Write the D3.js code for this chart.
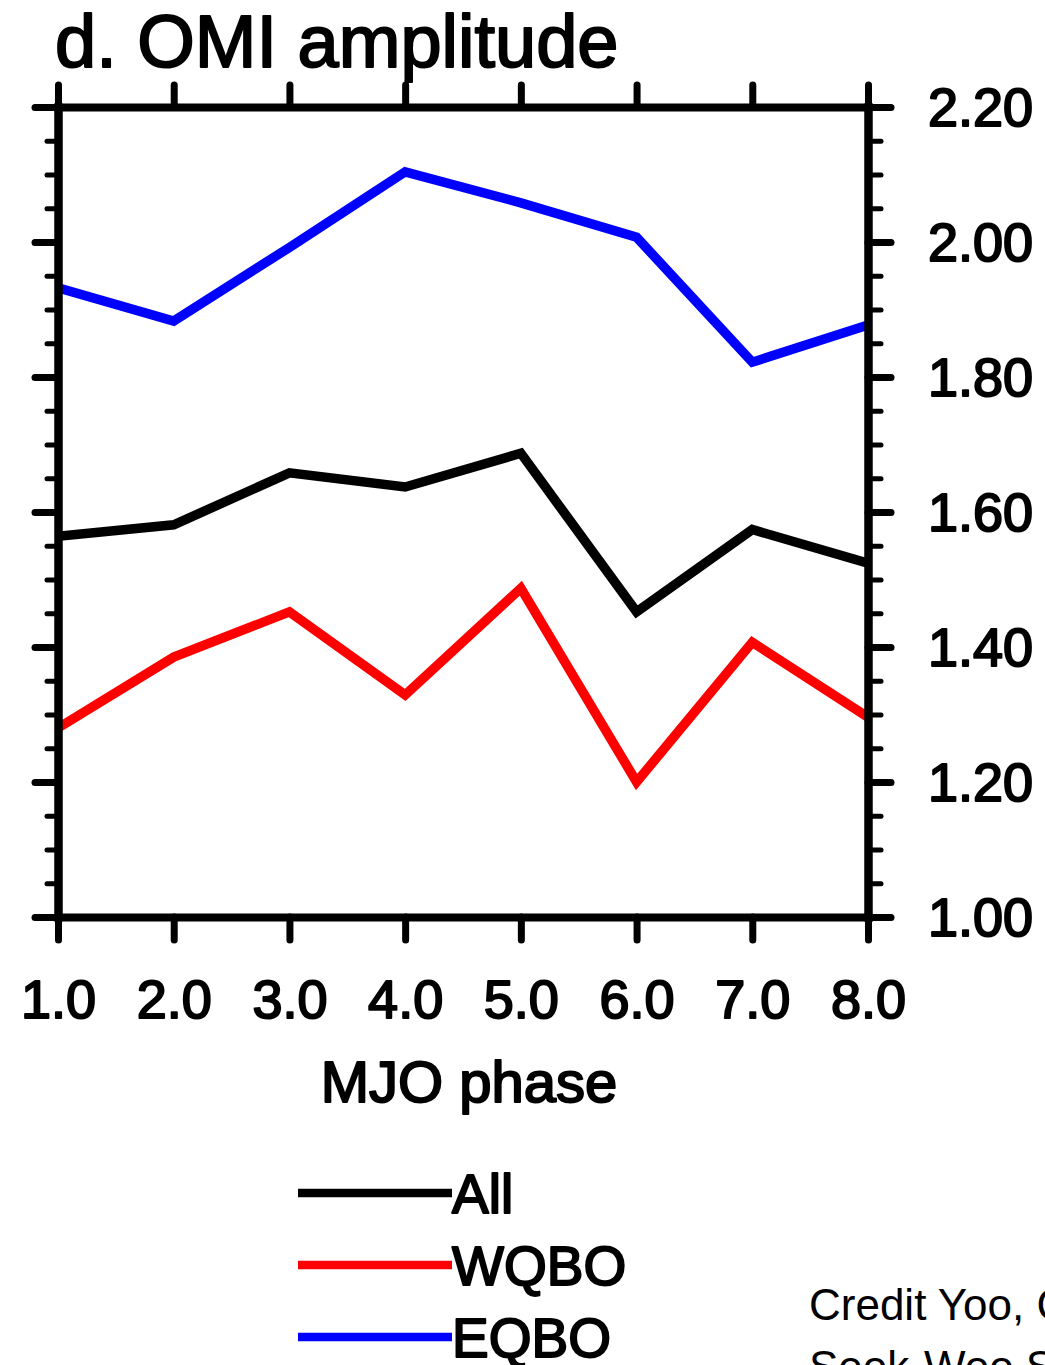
<!DOCTYPE html>
<html>
<head>
<meta charset="utf-8">
<script src="https://cdn.jsdelivr.net/npm/d3@7"></script>
<style>
  body { margin: 0; background: #fff; }
  text { font-family: "Liberation Sans", Arial, sans-serif; fill: #000; }
  .heavy { stroke: #000; stroke-width: 2px; stroke-linejoin: round; paint-order: stroke; }
</style>
</head>
<body>
<div id="chart"></div>
<script>
// DATA
const phases = [1, 2, 3, 4, 5, 6, 7, 8];
const allVals  = [1.564, 1.581, 1.658, 1.637, 1.687, 1.452, 1.574, 1.524];
const wqboVals = [1.280, 1.385, 1.452, 1.329, 1.487, 1.200, 1.407, 1.296];
const eqboVals = [1.932, 1.883, 1.992, 2.104, 2.058, 2.007, 1.822, 1.877];
const seriesNames = ['All', 'WQBO', 'EQBO'];
const seriesColors = ['#000000', '#ff0000', '#0000ff'];
const yMajor = [1.0, 1.2, 1.4, 1.6, 1.8, 2.0, 2.2];
const yMinor = [1.05, 1.10, 1.15, 1.25, 1.30, 1.35, 1.45, 1.50, 1.55, 1.65, 1.70, 1.75,
                1.85, 1.90, 1.95, 2.05, 2.10, 2.15];

const series = seriesNames.map((name, i) => ({
    name: name,
    color: seriesColors[i],
    values: [allVals, wqboVals, eqboVals][i]
}));

// DIMENSIONS
const width = 1045, height = 1365;
const pLeft = 58, pRight = 868, pTop = 107, pBottom = 917;

const svg = d3.select('#chart')
    .append('svg')
    .attr('width', width)
    .attr('height', height)
    .style('display', 'block')
    .style('background', '#fff');

// SCALES
const x = d3.scaleLinear().domain([1, 8]).range([pLeft, pRight]);
const y = d3.scaleLinear().domain([1.0, 2.2]).range([pBottom, pTop]);

// CLIP
svg.append('clipPath').attr('id', 'plot')
    .append('rect')
    .attr('x', pLeft).attr('y', pTop)
    .attr('width', pRight - pLeft).attr('height', pBottom - pTop);

// LINES
const line = d3.line()
    .x((d, i) => x(phases[i]))
    .y(d => y(d));

svg.append('g')
    .attr('clip-path', 'url(#plot)')
    .selectAll('path')
    .data(series)
    .join('path')
    .attr('d', d => line(d.values))
    .attr('fill', 'none')
    .attr('stroke', d => d.color)
    .attr('stroke-width', 9.5)
    .attr('stroke-linejoin', 'miter');

// AXES
const styleAxis = (g, w) => {
    g.select('.domain')
        .attr('stroke-width', 8)
        .attr('stroke-linecap', 'square');
    g.selectAll('.tick line')
        .attr('stroke-width', w)
        .attr('stroke-linecap', 'round');
};

// minor y ticks, both sides
svg.append('g')
    .attr('transform', `translate(${pLeft},0)`)
    .call(d3.axisLeft(y).tickValues(yMinor).tickSize(11).tickSizeOuter(0).tickFormat(''))
    .call(g => styleAxis(g, 5));

svg.append('g')
    .attr('transform', `translate(${pRight},0)`)
    .call(d3.axisRight(y).tickValues(yMinor).tickSize(13).tickSizeOuter(0).tickFormat(''))
    .call(g => styleAxis(g, 5));

// major y ticks
svg.append('g')
    .attr('transform', `translate(${pLeft},0)`)
    .call(d3.axisLeft(y).tickValues(yMajor).tickSize(23).tickSizeOuter(0).tickFormat(''))
    .call(g => styleAxis(g, 7));

svg.append('g')
    .attr('transform', `translate(${pRight},0)`)
    .call(d3.axisRight(y).tickValues(yMajor).tickSize(23).tickSizeOuter(0)
        .tickPadding(37).tickFormat(d3.format('.2f')))
    .call(g => styleAxis(g, 7))
    .call(g => g.selectAll('.tick text')
        .attr('class', 'heavy')
        .attr('font-size', 54)
        .attr('dy', '0.35em'));

// x axes, top and bottom
svg.append('g')
    .attr('transform', `translate(0,${pTop})`)
    .call(d3.axisTop(x).tickValues(phases).tickSize(22).tickSizeOuter(0).tickFormat(''))
    .call(g => styleAxis(g, 7));

svg.append('g')
    .attr('transform', `translate(0,${pBottom})`)
    .call(d3.axisBottom(x).tickValues(phases).tickSize(23).tickSizeOuter(0)
        .tickPadding(40).tickFormat(d3.format('.1f')))
    .call(g => styleAxis(g, 7))
    .call(g => g.selectAll('.tick text')
        .attr('class', 'heavy')
        .attr('font-size', 54));

// TITLE
svg.append('text')
    .attr('class', 'heavy')
    .attr('x', 55)
    .attr('y', 67)
    .attr('font-size', 74)
    .text('d. OMI amplitude');

// X LABEL
svg.append('text')
    .attr('class', 'heavy')
    .attr('x', (pLeft + pRight) / 2 + 6)
    .attr('y', 1102)
    .attr('text-anchor', 'middle')
    .attr('font-size', 58)
    .text('MJO phase');

// LEGEND
const legend = svg.append('g')
    .selectAll('g')
    .data(series)
    .join('g')
    .attr('transform', (d, i) => `translate(298,${1193 + i * 72})`);

legend.append('line')
    .attr('x1', 0).attr('x2', 154)
    .attr('stroke', d => d.color)
    .attr('stroke-width', 8.5);

legend.append('text')
    .attr('class', 'heavy')
    .attr('x', 154)
    .attr('dy', '0.36em')
    .attr('font-size', 55)
    .text(d => d.name);

// CREDIT
const credit = svg.append('text')
    .attr('x', 809)
    .attr('font-family', 'Carlito, Calibri, "Noto Sans", sans-serif')
    .attr('font-size', 44);

credit.append('tspan').attr('x', 809).attr('y', 1320).text('Credit Yoo, Changhyun and');
credit.append('tspan').attr('x', 809).attr('y', 1382).text('Seok-Woo Son');
</script>
</body>
</html>
